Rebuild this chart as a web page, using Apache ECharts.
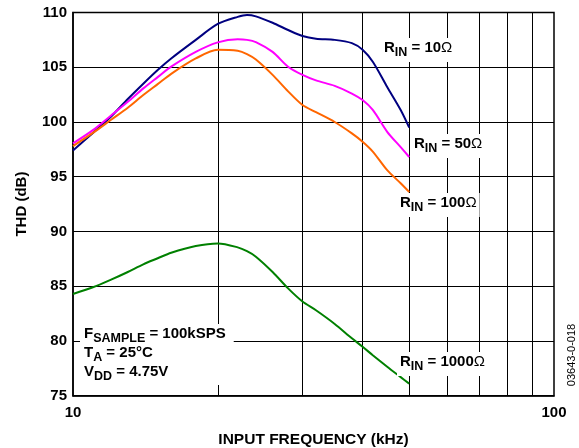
<!DOCTYPE html>
<html><head><meta charset="utf-8">
<script src="https://cdn.jsdelivr.net/npm/echarts@6/dist/echarts.min.js"></script>
<style>html,body{margin:0;padding:0;background:#fff}#c{width:579px;height:448px}</style>
</head><body><div id="c"></div>
<script>
var freq = [10, 11, 12, 13, 14, 15, 16, 18, 20, 22, 23, 24, 26, 28, 30, 32, 35, 38, 40, 42, 45, 48, 50];
var thd10   = [97.4, 99.0, 100.5, 102.1, 103.5, 104.75, 105.8, 107.5, 108.95, 109.6, 109.77, 109.65, 109.06, 108.4, 107.85, 107.6, 107.5, 107.2, 106.6, 105.5, 103.2, 101.1, 99.5];
var thd50   = [98.05, 99.26, 100.6, 101.85, 103.07, 104.1, 105.05, 106.4, 107.27, 107.55, 107.5, 107.3, 106.4, 105.05, 104.3, 103.8, 103.3, 102.6, 102.0, 101.1, 99.1, 97.7, 96.8];
var thd100  = [97.8, 99.0, 100.2, 101.3, 102.46, 103.46, 104.4, 105.8, 106.6, 106.5, 106.2, 105.7, 104.3, 102.8, 101.55, 100.9, 100.0, 98.96, 98.2, 97.3, 95.6, 94.4, 93.6];
var thd1000 = [84.29, 84.9, 85.6, 86.3, 87.0, 87.55, 88.06, 88.67, 88.9, 88.55, 88.2, 87.7, 86.3, 84.8, 83.6, 82.8, 81.55, 80.24, 79.47, 78.7, 77.65, 76.7, 76.1];
var gridFreqs = [20, 30, 40, 50, 60, 70, 80, 90];
var yTicks = [75, 80, 85, 90, 95, 100, 105, 110];

function pairs(v){ return freq.map(function(f,i){ return [f, v[i]]; }); }
var FONT = "'Liberation Sans', Arial, sans-serif";
var rich = {
  a: {fontSize: 15, fontWeight: 'bold', fontFamily: FONT, color: '#000', lineHeight: 19, verticalAlign: 'top'},
  b: {fontSize: 12.5, fontWeight: 'bold', fontFamily: FONT, color: '#000', lineHeight: 19, verticalAlign: 'top', padding: [6,0,0,0]},
  c: {fontSize: 15, fontWeight: 'normal', fontFamily: FONT, color: '#000', lineHeight: 19, verticalAlign: 'top'}
};
function rlabel(sub, rest){ return '{a|R}{b|' + sub + '}{a|' + rest + '}{c|Ω}'; }

var chart = echarts.init(document.getElementById('c'), null, {renderer: 'canvas'});
var lineCommon = {type: 'line', showSymbol: false, smooth: 0.3, z: 3};
chart.setOption({
  animation: false,
  grid: {left: 73, right: 25, top: 12.5, bottom: 52.3, containLabel: false, outerBoundsMode: 'none',
         show: true, borderColor: '#000', borderWidth: 1.5, backgroundColor: 'transparent'},
  xAxis: {
    type: 'log', logBase: 10, min: 10, max: 100,
    name: 'INPUT FREQUENCY (kHz)', nameLocation: 'middle', nameGap: 36,
    nameTextStyle: {fontSize: 15.5, fontWeight: 'bold', fontFamily: FONT, color: '#000'},
    axisLine: {show: true, lineStyle: {color: '#000', width: 1.5}},
    axisTick: {show: false},
    splitLine: {show: false},
    axisLabel: {fontSize: 15, fontWeight: 'bold', fontFamily: FONT, color: '#000', margin: 10}
  },
  yAxis: {
    type: 'value', min: 75, max: 110, interval: 5,
    name: 'THD (dB)', nameLocation: 'middle', nameGap: 44,
    nameTextStyle: {fontSize: 15, fontWeight: 'bold', fontFamily: FONT, color: '#000'},
    axisLine: {show: true, lineStyle: {color: '#000', width: 1.5}},
    axisTick: {show: false},
    splitLine: {show: true, lineStyle: {color: '#000', width: 1}},
    axisLabel: {fontSize: 15, fontWeight: 'bold', fontFamily: FONT, color: '#000', margin: 6,
      formatter: function(v){ return yTicks.indexOf(v) >= 0 ? String(v) : ''; }}
  },
  series: [
    {type: 'line', data: [], z: 1, silent: true,
     markLine: {silent: true, symbol: 'none', z: 1, label: {show: false},
       lineStyle: {color: '#000', width: 1, type: 'solid'},
       data: gridFreqs.map(function(f){ return {xAxis: f}; })}},
    Object.assign({name: 'RIN = 10', data: pairs(thd10), lineStyle: {color: '#000080', width: 2}, itemStyle: {color: '#000080'}}, lineCommon),
    Object.assign({name: 'RIN = 50', data: pairs(thd50), lineStyle: {color: '#ff00ff', width: 2}, itemStyle: {color: '#ff00ff'}}, lineCommon),
    Object.assign({name: 'RIN = 100', data: pairs(thd100), lineStyle: {color: '#ff6600', width: 2}, itemStyle: {color: '#ff6600'}}, lineCommon),
    Object.assign({name: 'RIN = 1000', data: pairs(thd1000), lineStyle: {color: '#008000', width: 2}, itemStyle: {color: '#008000'}}, lineCommon)
  ],
  graphic: [
    {type: 'text', z: 10, style: {x: 381, y: 38, text: rlabel('IN', ' = 10'), rich: rich, backgroundColor: '#fff', padding: [2,3,3,3]}},
    {type: 'text', z: 10, style: {x: 411, y: 134, text: rlabel('IN', ' = 50'), rich: rich, backgroundColor: '#fff', padding: [2,3,3,3]}},
    {type: 'text', z: 10, style: {x: 397, y: 193, text: rlabel('IN', ' = 100'), rich: rich, backgroundColor: '#fff', padding: [2,3,3,3]}},
    {type: 'text', z: 10, style: {x: 397, y: 352, text: rlabel('IN', ' = 1000'), rich: rich, backgroundColor: '#fff', padding: [2,3,3,3]}},
    {type: 'text', z: 10, style: {x: 80, y: 324,
      text: '{a|F}{b|SAMPLE}{a| = 100kSPS}\n{a|T}{b|A}{a| = 25°C}\n{a|V}{b|DD}{a| = 4.75V}',
      rich: rich, backgroundColor: '#fff', padding: [2,8,2,4]}},
    {type: 'text', z: 10, x: 572, y: 355, rotation: Math.PI/2,
     style: {x: 0, y: 0, text: '03643-0-018', align: 'center', verticalAlign: 'middle', fontSize: 11, fontFamily: FONT, fill: '#000'}}
  ]
});
</script></body></html>
